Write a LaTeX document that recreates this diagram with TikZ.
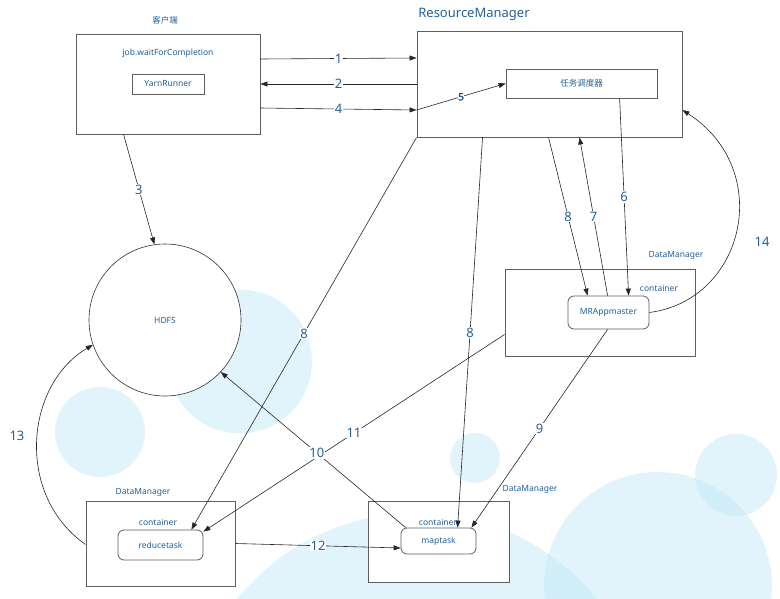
\documentclass[tikz,border=0pt]{standalone}
\usepackage{fontspec}
\setmainfont{Noto Sans}
\newfontfamily\cjk{Noto Sans CJK SC}
\newfontfamily\heavynum[FakeBold=2.5]{Noto Sans}
\usetikzlibrary{arrows.meta}
\definecolor{txt}{RGB}{36,96,150}
\definecolor{bub}{RGB}{190,230,246}
\definecolor{edge}{RGB}{95,95,95}
\tikzset{
  bubble/.style={fill=bub,fill opacity=0.45,draw=none},
  box/.style={draw=edge,line width=0.9pt,rectangle,fill=white},
  rbox/.style={draw=edge,line width=0.8pt,rectangle,rounded corners=6pt,fill=white,text=txt,font=\fontsize{8.5}{9}\selectfont},
  small/.style={text=txt,font=\fontsize{8.5}{9}\selectfont,inner sep=0pt},
  conn/.style={draw=black!85,line width=0.6pt,-{Triangle[length=7pt,width=5pt]}},
  num/.style={fill=white,text=txt,font=\fontsize{13}{13}\selectfont,inner sep=0.8pt},
}
\begin{document}
\begin{tikzpicture}[x=1pt,y=-1pt]
\useasboundingbox (0,0) rectangle (780,599);
% background bubbles
\fill[bubble] (240,361.5) circle (72);
\fill[bubble] (100,432) circle (45);
\fill[bubble] (475,458) circle (25);
\fill[bubble] (736,475) circle (41);
\fill[bubble] (417,744) circle (231);
\fill[bubble] (658,586) circle (114);

% client
\node[box,minimum width=184pt,minimum height=100pt] (client) at (168,84) {};
\node[small,font=\cjk\fontsize{8.5}{9}\selectfont] (clientlbl) at (165,20) {客户端};
\node[small] (job) at (168,53) {job.waitForCompletion};
\node[box,draw=edge,minimum width=72pt,minimum height=20pt,text=txt,font=\fontsize{8.5}{9}\selectfont,line width=0.8pt] (yarn) at (168,84) {YarnRunner};

% resource manager
\node[box,minimum width=265pt,minimum height=106pt] (rm) at (549.5,84) {};
\node[text=txt,font=\fontsize{13}{13}\selectfont,inner sep=0pt] (rmtitle) at (474,14) {ResourceManager};
\node[box,minimum width=151pt,minimum height=29pt,text=txt,font=\cjk\fontsize{8.5}{9}\selectfont,line width=0.8pt] (sched) at (581.5,83.5) {任务调度器};

% HDFS
\node[circle,draw=black!80,line width=0.6pt,fill=white,minimum size=152pt,inner sep=0pt,text=txt,font=\fontsize{8.5}{9}\selectfont] (hdfs) at (165,320) {HDFS};

% MR app master data manager
\node[box,minimum width=190pt,minimum height=87pt] (dm1) at (600,312.5) {};
\node[small] (dm1lbl) at (676,255) {DataManager};
\node[small] (cont1) at (659,288) {container};
\node[rbox,minimum width=81pt,minimum height=33pt] (mr) at (608.5,312.5) {MRAppmaster};

% reduce data manager
\node[box,minimum width=149pt,minimum height=85pt] (dm2) at (160.5,543.5) {};
\node[small] (dm2lbl) at (143,492) {DataManager};
\node[small] (cont2) at (158,522) {container};
\node[rbox,minimum width=85pt,minimum height=30pt] (red) at (160.5,545) {reducetask};

% map data manager
\node[box,minimum width=141pt,minimum height=81pt] (dm3) at (438.5,541.5) {};
\node[small] (dm3lbl) at (530,489) {DataManager};
\node[small] (cont3) at (438,522) {container};
\node[rbox,minimum width=75pt,minimum height=26pt] (map) at (438.5,541) {maptask};

% connectors
\draw[conn] ([yshift=25pt]client.east) -- node[num]{1} ([yshift=26pt]rm.west);
\draw[conn] (rm.west) -- node[num]{2} (client.east);
\draw[conn] ([yshift=-24pt]client.east) -- node[num]{4} ([yshift=-26pt]rm.west);
\draw[conn] ([yshift=-26pt]rm.west) -- node[fill=white,inner sep=0.3pt,text=txt!85!black,font=\heavynum\fontsize{10}{10}\selectfont]{5} (sched.west);
\draw[conn] ([xshift=48pt]client.south west) -- node[num]{3} (hdfs.98);
\draw[conn] ([xshift=132pt]rm.south west) -- node[num]{8} ([xshift=20pt]mr.north west);
\draw[conn] ([xshift=40pt]mr.north west) -- node[num]{7} ([xshift=163pt]rm.south west);
\draw[conn] ([xshift=114pt]sched.south west) -- node[num]{6} ([xshift=61pt]mr.north west);
\draw[conn] (mr.east) .. controls (745,300) and (775,170) .. ([yshift=-26pt]rm.east);
\node[num,fill=none] (n14) at (762,242) {14};
\draw[conn] (rm.south west) -- node[num]{8} ([xshift=-12pt]red.north east);
\draw[conn] ([xshift=66pt]rm.south west) -- node[num]{8} ([xshift=57pt]map.north west);
\draw[conn] ([xshift=40pt]mr.south west) -- node[num]{9} ([xshift=-5pt]map.north east);
\draw[conn] ([yshift=-22pt]dm1.west) -- node[num,pos=0.5]{11} ([yshift=-2pt]red.north east);
\draw[conn] ([xshift=5pt]map.north west) -- node[num,pos=0.48]{10} (hdfs.-43);
\draw[conn] (dm2.east) -- node[num]{12} ([yshift=-7pt]map.west);
\draw[conn] ([yshift=-1pt]dm2.west) .. controls (15,495) and (25,385) .. (hdfs.-161);
\node[num,fill=none] (n13) at (17,436) {13};
\end{tikzpicture}
\end{document}
